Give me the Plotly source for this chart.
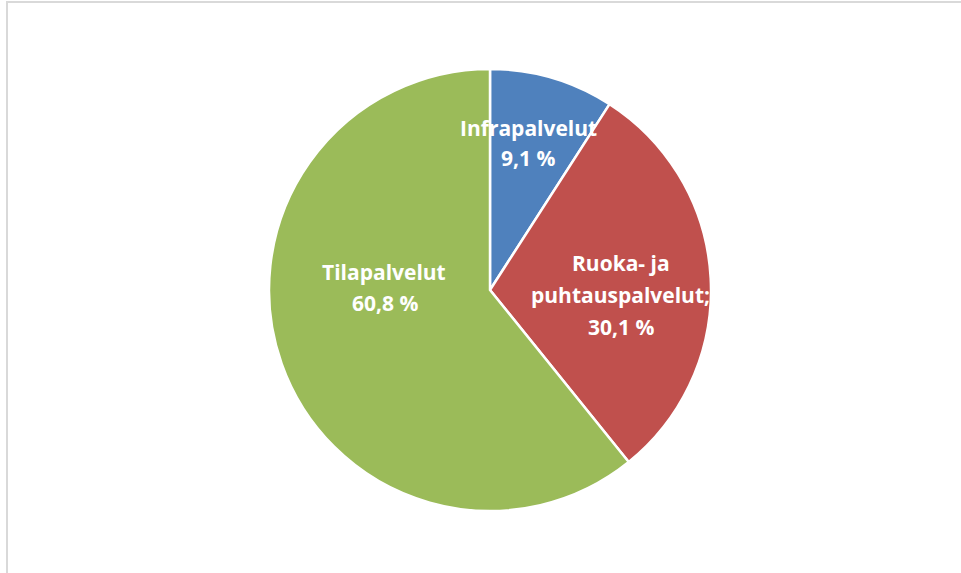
import plotly.graph_objects as go

# Data
categories = ["Infrapalvelut", "Ruoka- ja puhtauspalvelut", "Tilapalvelut"]
values = [9.1, 30.1, 60.8]
label_lines = [["Infrapalvelut", "9,1 %"],
               ["Ruoka- ja", "puhtauspalvelut;", "30,1 %"],
               ["Tilapalvelut", "60,8 %"]]
colors = ["#4F81BD", "#C0504D", "#9BBB59"]

W, H = 961, 573
cx, cy, r = 490, 290, 221

fig = go.Figure(go.Pie(
    labels=categories,
    values=values,
    sort=False,
    direction="clockwise",
    rotation=0,
    marker=dict(colors=colors, line=dict(color="white", width=2.5)),
    textinfo="none",
    hoverinfo="label+percent",
    showlegend=False,
    domain=dict(x=[(cx - r) / W, (cx + r) / W], y=[(H - cy - r) / H, (H - cy + r) / H]),
))

# label centers (pixels) for each line
label_pos = [[(528, 128), (528, 158)],
             [(621, 263), (620, 295), (621, 327)],
             [(384, 272), (385, 303)]]

for lines, poss in zip(label_lines, label_pos):
    for txt, (px, py) in zip(lines, poss):
        fig.add_annotation(
            x=px / W, y=1 - py / H, xref="paper", yref="paper",
            text=txt, showarrow=False, xanchor="center", yanchor="middle",
            font=dict(family="Open Sans", size=21, color="white", weight="bold"),
        )

fig.add_shape(type="rect", xref="paper", yref="paper",
              x0=7 / W, x1=1.05, y0=-0.05, y1=1 - 2 / H,
              line=dict(color="#D9D9D9", width=2), fillcolor="rgba(0,0,0,0)")

fig.update_layout(
    width=W, height=H,
    margin=dict(l=0, r=0, t=0, b=0),
    paper_bgcolor="white",
    plot_bgcolor="white",
)

fig.write_html("out.html",
               config={"displayModeBar": False},
               post_script="document.body.style.margin='0';document.body.style.overflow='hidden';")
